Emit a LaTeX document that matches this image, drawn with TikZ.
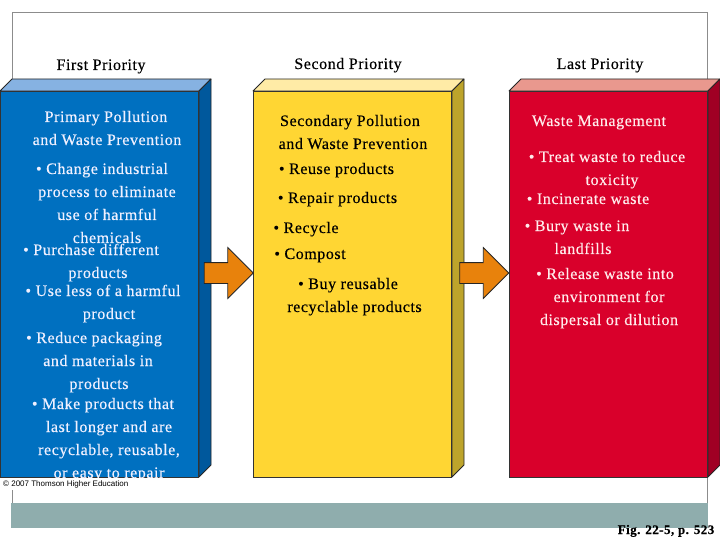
\documentclass[tikz,border=0pt]{standalone}
\usepackage{fontspec}
\setmainfont[LetterSpace=3.5,FakeBold=0.3]{Liberation Serif}
\newfontfamily\notefont{Liberation Sans}
\usetikzlibrary{shapes.arrows}
\definecolor{bluefront}{HTML}{0070C0}
\definecolor{bluetop}{HTML}{86B2E2}
\definecolor{blueside}{HTML}{00589C}
\definecolor{yellowfront}{HTML}{FFD633}
\definecolor{yellowtop}{HTML}{FFEBA6}
\definecolor{yellowside}{HTML}{BDA42B}
\definecolor{redfront}{HTML}{D9002B}
\definecolor{redtop}{HTML}{E9988E}
\definecolor{redside}{HTML}{A00024}
\definecolor{bandgrey}{HTML}{8FADAD}
\definecolor{arroworange}{HTML}{E8820C}
\tikzset{
  line/.style={anchor=base, inner sep=0pt, font=\fontsize{16}{16}\selectfont},
  heading/.style={line, text=black},
  bluetext/.style={line, text=blue!6!white},
  yellowtext/.style={line, text=black},
  redtext/.style={line, text=red!8!white},
  front/.style={draw=black!80, line width=0.8pt, minimum width=198pt, minimum height=386pt, inner sep=0pt},
  face/.style={draw=black!85, line width=0.8pt, line join=round},
  blockarrow/.style={single arrow, draw=black!85, fill=arroworange, line width=0.8pt, minimum width=50pt,
    minimum height=49pt, single arrow head extend=15pt, single arrow tip angle=90, inner sep=10pt},
}
\begin{document}
\begin{tikzpicture}[x=1pt,y=-1pt]
    \useasboundingbox (0,0) rectangle (720,540);

    % frame and band
    \draw [black!45, line width=0.8pt] (12,503) -- (12,12) -- (707,12) -- (707,503);
    \fill [bandgrey] (11,503) rectangle (708,528);

    \node (first) at (101,70) [heading] {First Priority};
    \node (second) at (348,69) [heading] {Second Priority};
    \node (last) at (600,69) [heading] {Last Priority};

    % boxes
    \foreach \left/\name in {0/blue,253/yellow,509/red} {
      \filldraw [face, fill=\name top] (\left,91) -- (\left+12,79) -- (\left+211,79) -- (\left+199,91) -- cycle;
      \filldraw [face, fill=\name side] (\left+199,91) -- (\left+211,79) -- (\left+211,465) -- (\left+199,477) -- cycle;
      \node (\name box) at (\left+99.5,284) [front, fill=\name front] {};
    }

    \node (a1) at (223.5,273) [blockarrow] {};
    \node (a2) at (479,273) [blockarrow] {};

    \node (b1) at (106,122) [bluetext] {Primary Pollution};
    \node (b2) at (107,145) [bluetext] {and Waste Prevention};
    \node (b3) at (102,174) [bluetext] {• Change industrial};
    \node (b4) at (107,197) [bluetext] {process to eliminate};
    \node (b5) at (107,220) [bluetext] {use of harmful};
    \node (b6) at (107,243) [bluetext] {chemicals};
    \node (b7) at (91,255) [bluetext] {• Purchase different};
    \node (b8) at (98,278) [bluetext] {products};
    \node (b9) at (103,296) [bluetext] {• Use less of a harmful};
    \node (b10) at (109,319) [bluetext] {product};
    \node (b11) at (94,343) [bluetext] {• Reduce packaging};
    \node (b12) at (98,366) [bluetext] {and materials in};
    \node (b13) at (99,389) [bluetext] {products};
    \node (b14) at (103,409) [bluetext] {• Make products that};
    \node (b15) at (109,432) [bluetext] {last longer and are};
    \node (b16) at (109,455) [bluetext] {recyclable, reusable,};
    \node (b17) at (109,478) [bluetext] {or easy to repair};

    \node (y1) at (350,126) [yellowtext] {Secondary Pollution};
    \node (y2) at (353,149) [yellowtext] {and Waste Prevention};
    \node (y3) at (336.5,174) [yellowtext] {• Reuse products};
    \node (y4) at (337.5,203) [yellowtext] {• Repair products};
    \node (y5) at (306,233) [yellowtext] {• Recycle};
    \node (y6) at (310,259) [yellowtext] {• Compost};
    \node (y7) at (348,289) [yellowtext] {• Buy reusable};
    \node (y8) at (354.5,312) [yellowtext] {recyclable products};

    \node (r1) at (599,126) [redtext] {Waste Management};
    \node (r2) at (607,162) [redtext] {• Treat waste to reduce};
    \node (r3) at (612,185) [redtext] {toxicity};
    \node (r4) at (588,204) [redtext] {• Incinerate waste};
    \node (r5) at (577,231) [redtext] {• Bury waste in};
    \node (r6) at (583,254) [redtext] {landfills};
    \node (r7) at (605,279) [redtext] {• Release waste into};
    \node (r8) at (609,302) [redtext] {environment for};
    \node (r9) at (609,325) [redtext] {dispersal or dilution};

    % covers the last line below the box
    \fill [white] (0,478) rectangle (160,490);
    \node (note) at (3,484) [anchor=west, inner sep=0pt, font=\notefont\fontsize{8}{8}\selectfont] {© 2007 Thomson Higher Education};
    \node (fig) at (666,534) [heading, font=\fontsize{13}{13}\selectfont\bfseries] {Fig. 22-5, p. 523};
\end{tikzpicture}
\end{document}
